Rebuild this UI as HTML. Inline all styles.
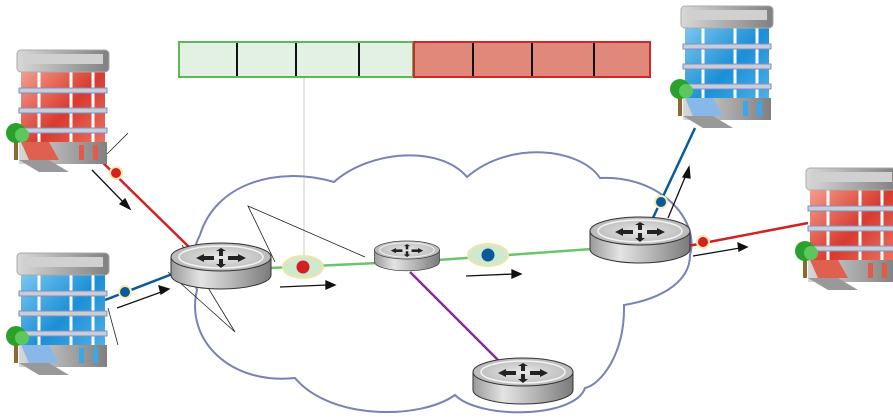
<!DOCTYPE html>
<html><head><meta charset="utf-8"><style>html,body{margin:0;padding:0;background:#fff}svg{display:block}</style></head><body>
<svg width="893" height="418" viewBox="0 0 893 418" xmlns="http://www.w3.org/2000/svg">
<defs>
<linearGradient id="rg" x1="0" x2="1"><stop offset="0" stop-color="#9a9a9a"/><stop offset="0.3" stop-color="#e4e4e4"/><stop offset="0.6" stop-color="#b8b8b8"/><stop offset="1" stop-color="#7a7a7a"/></linearGradient>
<radialGradient id="rt" cx="0.5" cy="0.5" r="0.6"><stop offset="0" stop-color="#e8e8e8"/><stop offset="1" stop-color="#b0b0b0"/></radialGradient>
<linearGradient id="red" x1="0" x2="1" y1="0" y2="1"><stop offset="0" stop-color="#f4a090"/><stop offset="0.5" stop-color="#d83a2e"/><stop offset="1" stop-color="#f08070"/></linearGradient>
<linearGradient id="blue" x1="0" x2="1" y1="0" y2="1"><stop offset="0" stop-color="#7cc8f0"/><stop offset="0.5" stop-color="#1b8fd6"/><stop offset="1" stop-color="#5ab8ec"/></linearGradient>
<linearGradient id="gray" x1="0" x2="1"><stop offset="0" stop-color="#d8d8d8"/><stop offset="1" stop-color="#808080"/></linearGradient>
<g id="router">
<path d="M-50,0 L-50,18 A50,14 0 0 0 50,18 L50,0 Z" fill="url(#rg)" stroke="#333" stroke-width="1"/>
<ellipse cx="0" cy="0" rx="50" ry="14" fill="url(#rt)" stroke="#333" stroke-width="1"/>
<ellipse cx="0" cy="0" rx="42" ry="11" fill="none" stroke="#f4f4f4" stroke-width="1.5"/>
<path d="M-25,1 l8,-4 v2 h10 v4 h-10 v2 z M25,1 l-8,-4 v2 h-10 v4 h10 v2 z M0,-9 l-5,3 h3 v5 h4 v-5 h3 z M0,11 l-5,-4 h3 v-5 h4 v5 h3 z" fill="#222"/>
</g>
<g id="bred">
<polygon points="2,20 86,20 86,110 2,110" fill="url(#red)"/>
<g stroke="#fff" stroke-width="3"><line x1="20" y1="20" x2="20" y2="100"/><line x1="52" y1="20" x2="52" y2="100"/><line x1="74" y1="20" x2="74" y2="100"/></g>
<g fill="#c8cdd8" stroke="#7e8fc0" stroke-width="1"><rect x="0" y="38" width="88" height="5"/><rect x="0" y="58" width="88" height="5"/><rect x="0" y="78" width="88" height="5"/></g>
<rect x="0" y="92" width="88" height="22" fill="url(#gray)"/>
<rect x="20" y="95" width="6" height="15" fill="#e45a4a"/><rect x="60" y="95" width="5" height="15" fill="#e45a4a"/><rect x="74" y="95" width="5" height="15" fill="#e45a4a"/>
<rect x="-2" y="0" width="92" height="22" rx="4" fill="url(#gray)" stroke="#aaa"/>
<rect x="4" y="4" width="80" height="10" fill="#d0d0d0"/>
<polygon points="0,110 30,110 50,122 20,122" fill="#999"/>
<polygon points="2,92 30,92 40,110 10,110" fill="#e06050"/>
<rect x="-5" y="90" width="4" height="20" fill="#8a6a30"/>
<circle cx="-3" cy="83" r="10" fill="#2ca02c"/><circle cx="3" cy="85" r="7" fill="#5cc85c"/>
</g>
<g id="bblue">
<polygon points="2,20 86,20 86,110 2,110" fill="url(#blue)"/>
<g stroke="#fff" stroke-width="3"><line x1="20" y1="20" x2="20" y2="100"/><line x1="52" y1="20" x2="52" y2="100"/><line x1="74" y1="20" x2="74" y2="100"/></g>
<g fill="#c8cdd8" stroke="#7e8fc0" stroke-width="1"><rect x="0" y="38" width="88" height="5"/><rect x="0" y="58" width="88" height="5"/><rect x="0" y="78" width="88" height="5"/></g>
<rect x="0" y="92" width="88" height="22" fill="url(#gray)"/>
<rect x="60" y="95" width="5" height="15" fill="#3aa8e8"/><rect x="74" y="95" width="5" height="15" fill="#3aa8e8"/>
<rect x="-2" y="0" width="92" height="22" rx="4" fill="url(#gray)" stroke="#aaa"/>
<rect x="4" y="4" width="80" height="10" fill="#d0d0d0"/>
<polygon points="0,110 30,110 50,122 20,122" fill="#999"/>
<polygon points="2,92 30,92 40,110 10,110" fill="#88b8e8"/>
<rect x="-5" y="90" width="4" height="20" fill="#8a6a30"/>
<circle cx="-3" cy="83" r="10" fill="#2ca02c"/><circle cx="3" cy="85" r="7" fill="#5cc85c"/>
</g>
</defs>

<!-- bar -->
<rect x="179" y="42" width="234" height="35" fill="#e2f1e2" stroke="#5cb85c" stroke-width="2"/>
<rect x="414" y="42" width="236" height="35" fill="#e0887a" stroke="#cc2a2a" stroke-width="2"/>
<g stroke="#111" stroke-width="2"><line x1="237" y1="43" x2="237" y2="76"/><line x1="296" y1="43" x2="296" y2="76"/><line x1="359" y1="43" x2="359" y2="76"/><line x1="473" y1="43" x2="473" y2="76"/><line x1="532" y1="43" x2="532" y2="76"/><line x1="594" y1="43" x2="594" y2="76"/></g>
<line x1="304" y1="78" x2="304" y2="258" stroke="#ccc" stroke-width="1"/>

<!-- cloud -->
<path d="M200,235 C215,185 275,165 334,182 C370,150 440,145 467,177 C510,140 580,148 600,178 C660,175 700,220 690,255 C690,285 655,300 624,305 C625,355 600,385 585,388 C575,418 480,420 455,395 C420,420 330,420 295,378 C230,385 185,340 197,290 C190,270 192,250 200,235 Z" fill="none" stroke="#7a80b8" stroke-width="2"/>

<!-- links -->
<line x1="95" y1="155" x2="190" y2="248" stroke="#d42020" stroke-width="2.5"/>
<line x1="105" y1="300" x2="175" y2="273" stroke="#0a5a9a" stroke-width="2.5"/>
<line x1="270" y1="268" x2="378" y2="263" stroke="#6cc46c" stroke-width="2.5"/>
<line x1="438" y1="260" x2="592" y2="249" stroke="#6cc46c" stroke-width="2.5"/>
<line x1="410" y1="272" x2="498" y2="360" stroke="#8a2a9a" stroke-width="2.5"/>
<line x1="652" y1="220" x2="695" y2="128" stroke="#0a5a9a" stroke-width="2.5"/>
<line x1="688" y1="246" x2="808" y2="223" stroke="#d42020" stroke-width="2.5"/>

<!-- thin lines -->
<g stroke="#222" stroke-width="0.8" fill="none">
<line x1="107" y1="154" x2="128" y2="133"/>
<line x1="108" y1="308" x2="118" y2="345"/>
<polyline points="275,262 248,206 365,257"/>
<polyline points="182,245 235,332 168,272"/>
</g>
<!-- arrows -->
<g stroke="#111" stroke-width="1.3" fill="#111">
<line x1="92" y1="170" x2="126" y2="205"/><polygon points="130,209 120,204 125,199"/>
<line x1="117" y1="308" x2="164" y2="291"/><polygon points="169,289 159,286 161,294"/>
<line x1="280" y1="287" x2="327" y2="285"/><polygon points="335,285 326,281 326,289"/>
<line x1="466" y1="276" x2="514" y2="274"/><polygon points="521,274 512,270 512,278"/>
<line x1="668" y1="218" x2="686" y2="175"/><polygon points="689,167 683,177 690,178"/>
<line x1="693" y1="256" x2="740" y2="248"/><polygon points="747,247 738,243 739,251"/>
</g>

<!-- dots -->
<circle cx="116" cy="173" r="7" fill="#f6ecb0"/><circle cx="116" cy="173" r="5" fill="#d42020"/>
<circle cx="125" cy="292" r="7" fill="#f6ecb0"/><circle cx="125" cy="292" r="5" fill="#0a5a9a"/>
<ellipse cx="303" cy="267" rx="20" ry="11" fill="#cfe9cf" stroke="#f0e4a8" stroke-width="2"/><circle cx="303" cy="267" r="6.5" fill="#d42020"/>
<ellipse cx="488" cy="255" rx="20" ry="11" fill="#cfe9cf" stroke="#f0e4a8" stroke-width="2"/><circle cx="488" cy="255" r="6.5" fill="#0a5a9a"/>
<circle cx="661" cy="202" r="7" fill="#f6ecb0"/><circle cx="661" cy="202" r="5" fill="#0a5a9a"/>
<circle cx="703" cy="242" r="7" fill="#f6ecb0"/><circle cx="703" cy="242" r="5" fill="#d42020"/>

<!-- routers -->
<use href="#router" x="221" y="257"/>
<g transform="translate(407,250) scale(0.65)"><use href="#router"/></g>
<use href="#router" x="640" y="231"/>
<use href="#router" x="523" y="372"/>

<!-- buildings -->
<use href="#bred" x="19" y="50"/>
<use href="#bblue" x="19" y="253"/>
<use href="#bblue" x="683" y="6"/>
<use href="#bred" x="808" y="168"/>
</svg>
</body></html>
